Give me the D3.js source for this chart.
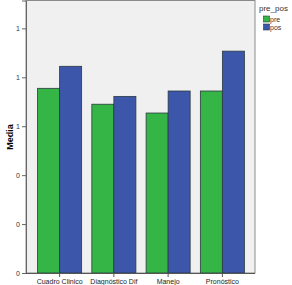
<!DOCTYPE html>
<html><head><meta charset="utf-8">
<script src="https://cdn.jsdelivr.net/npm/d3@7"></script>
<style>body{margin:0;background:#fff}svg{display:block;font-family:"Liberation Sans",Arial,sans-serif}</style>
</head><body><svg id="c" width="292" height="285"></svg>
<script>
const categories = ["Cuadro Clinico","Diagnóstico Dif","Manejo","Pronóstico"];
const seriesNames = ["pre","pos"];
const preValues = [0.755, 0.69, 0.654, 0.744];
const posValues = [0.845, 0.722, 0.744, 0.907];
const yTicks = [0, 0.2, 0.4, 0.6, 0.8, 1.0];
const colors = ["#35b545","#3c56aa"];

const svg = d3.select("#c");
const L = 26, R = 255, T = 0.5, B = 273;
svg.append("rect").attr("x",L).attr("y",T).attr("width",R-L).attr("height",B-T)
  .attr("fill","#f0f0f0").attr("stroke","#8a8a8a").attr("stroke-width",1);

const y = d3.scaleLinear().domain([0, 1.114]).range([B, T]);
const x0 = d3.scaleBand().domain(categories).range([32.5, 249.5]).paddingInner(0).paddingOuter(0);
const x1 = d3.scaleBand().domain(seriesNames).range([5.1, x0.bandwidth()-5.1]);

const data = categories.map((c,i)=>({cat:c, vals:[preValues[i], posValues[i]]}));
const g = svg.append("g");
data.forEach(d=>{
  d.vals.forEach((v,j)=>{
    g.append("rect")
      .attr("x", x0(d.cat)+x1(seriesNames[j]))
      .attr("y", y(v))
      .attr("width", x1.bandwidth())
      .attr("height", B - y(v))
      .attr("fill", colors[j])
      .attr("stroke","#2b3a40").attr("stroke-width",0.8);
  });
});

const yAxis = d3.axisLeft(y).tickValues(yTicks).tickSize(4).tickPadding(2)
  .tickFormat(d=>d3.format(".0f")(d));
const ya = svg.append("g").attr("transform",`translate(${L},0)`).call(yAxis);
ya.select(".domain").attr("stroke","#666");
ya.selectAll(".tick line").attr("stroke","#666");
ya.selectAll("text").attr("font-size",7).attr("fill","#333");

const xAxis = d3.axisBottom(x0).tickSize(4).tickSizeOuter(0).tickPadding(2);
const xa = svg.append("g").attr("transform",`translate(0,${B})`).call(xAxis);
xa.select(".domain").attr("d",`M${L},0.5H${R}`).attr("stroke","#555");
xa.selectAll(".tick line").attr("stroke","#555");
xa.selectAll("text").attr("font-size",7).attr("fill","#222");

svg.append("text").attr("transform","translate(13,137) rotate(-90)")
  .attr("text-anchor","middle").attr("font-size",9).attr("font-weight","bold").text("Media");

const lg = svg.append("g");
lg.append("text").attr("x",259).attr("y",11).attr("font-size",8).attr("fill","#333").text("pre_pos");
seriesNames.forEach((s,i)=>{
  lg.append("rect").attr("x",263.5).attr("y",16+i*8).attr("width",6).attr("height",6)
    .attr("fill",colors[i]).attr("stroke","#2b3a40").attr("stroke-width",0.6);
  lg.append("text").attr("x",270).attr("y",22+i*8).attr("font-size",7).attr("fill","#333").text(s);
});
</script></body></html>
